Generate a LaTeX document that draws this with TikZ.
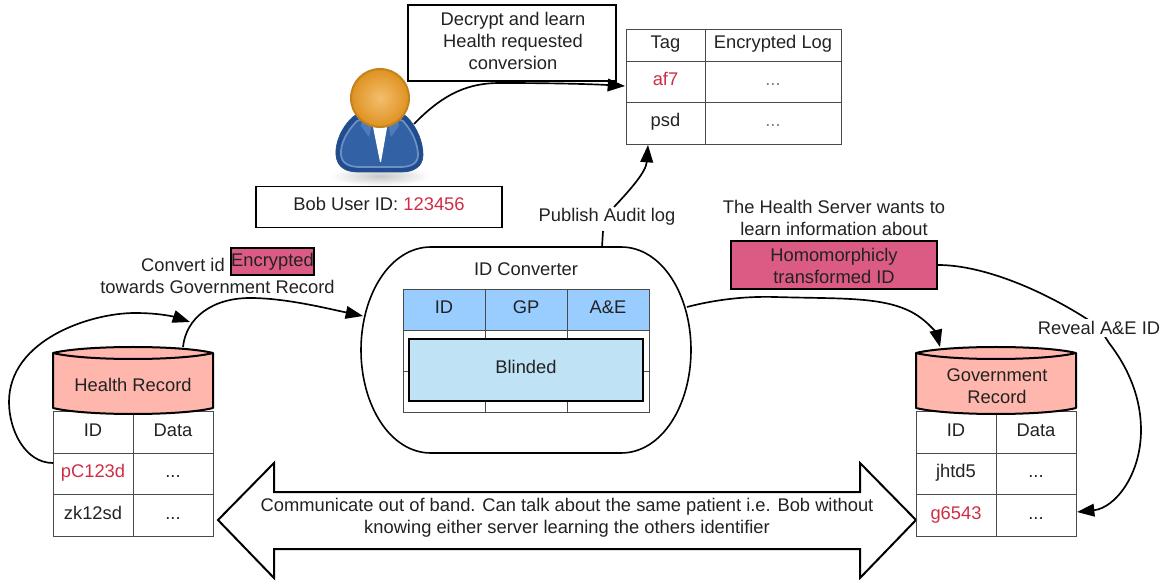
\documentclass[tikz,border=0pt]{standalone}
\usepackage{fontspec}
\setmainfont{Liberation Sans}
\usetikzlibrary{arrows.meta}
\definecolor{ink}{HTML}{222222}
\definecolor{redtxt}{HTML}{CE2E45}
\definecolor{pinkfill}{HTML}{DB5B84}
\definecolor{salmon}{HTML}{FFB6AD}
\definecolor{headblue}{HTML}{99CCFF}
\definecolor{blindblue}{HTML}{BFE3F5}
\definecolor{gridc}{HTML}{4A4A4A}
\definecolor{suitdark}{HTML}{214C8E}
\definecolor{suitmid}{HTML}{3262A5}
\definecolor{suitlight}{HTML}{6E91C4}
\definecolor{suitcollar}{HTML}{4F7CB8}
\definecolor{headin}{HTML}{F4BE6E}
\definecolor{headout}{HTML}{DE9220}
\definecolor{headline}{HTML}{C4821E}
\newcommand\threedots{...}
\tikzset{
  x=0.75pt,y=-0.75pt,
  every node/.style={font=\fontsize{13.75pt}{16.5pt}\selectfont,text=ink,align=center,inner sep=0pt},
  raised/.style={text height=9.8pt,text depth=4pt},
  cell/.style={draw=gridc,line width=0.7pt,raised},
  colA/.style={cell,minimum width=60pt,minimum height=31pt},
  boxed/.style={draw=black,line width=1.4pt,fill=white},
  pink/.style={draw=black,line width=1.4pt,fill=pinkfill},
  conn/.style={draw=black,line width=1.25pt},
  tipped/.style={conn,-{Triangle[length=13pt,width=9.5pt]}},
  cyl/.style={draw=black,line width=1.5pt,fill=salmon,line join=round},
}
\begin{document}
\begin{tikzpicture}
\useasboundingbox (0,0) rectangle (1166,580);

% ---- big double arrow
\draw[draw=black,line width=1.5pt,fill=white,line join=miter]
  (218,520) -- (274,463) -- (274,492) -- (860,492) -- (860,463) -- (916,520)
  -- (860,578) -- (860,549) -- (274,549) -- (274,578) -- cycle;
\node (oob) at (567,518) {Communicate out of band. Can talk about the same patient i.e. Bob without\\knowing either server learning the others identifier};

% ---- ID converter
\draw[draw=black,line width=1.2pt,fill=white]
  (431,247) -- (621,247) .. controls (662,247) and (691,295) .. (691,350)
  .. controls (691,405) and (662,453) .. (621,453) -- (431,453)
  .. controls (390,453) and (361,405) .. (361,350)
  .. controls (361,295) and (390,247) .. (431,247) -- cycle;
\node (convtitle) at (526,269) {ID Converter};
\foreach \n/\cx/\lab in {hid/444/ID,hgp/526/GP,hae/608/A\&E}{
  \node[cell,fill=headblue,minimum width=61.5pt,minimum height=30.75pt] (\n) at (\cx,309.5) {\lab};
}
\foreach \n/\cx in {a/444,b/526,c/608}{
  \node[cell,minimum width=61.5pt,minimum height=30.75pt] (r1\n) at (\cx,350.5) {};
  \node[cell,minimum width=61.5pt,minimum height=30.75pt] (r2\n) at (\cx,391.5) {};
}
\node[raised,draw=black,line width=2pt,fill=blindblue,minimum width=175.5pt,minimum height=46.5pt] (blinded) at (526,370) {Blinded};

% ---- Health record
\foreach \n/\cy/\a/\acol in {hra/432.5/ID/ink,hrb/474/pC123d/redtxt,hrc/515.5/zk12sd/ink}{
  \node[colA,text=\acol] (\n) at (93,\cy) {\a};
}
\foreach \n/\cy/\a in {hrd/432.5/Data,hre/474/\threedots,hrf/515.5/\threedots}{
  \node[colA] (\n) at (173,\cy) {\a};
}
\path[cyl] (53,353) -- (53,408) .. controls (85,416) and (181,416) .. (213,408) -- (213,353)
   .. controls (181,345) and (85,345) .. (53,353) -- cycle;
\draw[draw=black,line width=1.5pt] (53,353) .. controls (85,361) and (181,361) .. (213,353);
\node (hr) at (133,385) {Health Record};

% ---- Government record
\foreach \n/\cy/\a/\acol in {gra/432.5/ID/ink,grb/474/jhtd5/ink,grc/515.5/g6543/redtxt}{
  \node[colA,text=\acol] (\n) at (956,\cy) {\a};
}
\foreach \n/\cy/\a in {grd/432.5/Data,gre/474/\threedots,grf/515.5/\threedots}{
  \node[colA] (\n) at (1036,\cy) {\a};
}
\path[cyl] (916,353) -- (916,408) .. controls (948,416) and (1044,416) .. (1076,408) -- (1076,353)
   .. controls (1044,345) and (948,345) .. (916,353) -- cycle;
\draw[draw=black,line width=1.5pt] (916,353) .. controls (948,361) and (1044,361) .. (1076,353);
\node (gr) at (997,386) {Government\\Record};

% ---- log table
\node[cell,minimum width=59.25pt,minimum height=24pt] (tag) at (665.5,45) {Tag};
\node[cell,minimum width=102pt,minimum height=24pt] (enc) at (773,45) {Encrypted Log};
\node[cell,minimum width=59.25pt,minimum height=30.75pt,text=redtxt] (af) at (665.5,81.5) {af7};
\node[cell,minimum width=102pt,minimum height=30.75pt,text=gray] (l1) at (773,81.5) {\threedots};
\node[cell,minimum width=59.25pt,minimum height=31.5pt] (psd) at (665.5,123) {psd};
\node[cell,minimum width=102pt,minimum height=31.5pt,text=gray] (l2) at (773,123) {\threedots};

% ---- boxes
\node[boxed,minimum width=156pt,minimum height=57pt] (decrypt) at (512,43) {};
\node (decrypttext) at (513,41) {Decrypt and learn\\Health requested\\conversion};
\node[raised,boxed,minimum width=184.5pt,minimum height=30.75pt] (bob) at (379,207) {Bob User ID: \textcolor{redtxt}{123456}};
\node[pink,minimum width=154.5pt,minimum height=36pt] (homo) at (834,265) {};
\node (homotext) at (834,266) {Homomorphicly\\transformed ID};
\node[pink,minimum width=62pt,minimum height=20pt,line width=1.2pt] (encr) at (272.5,261.5) {Encrypted};
\node[anchor=east] (convid) at (225,265) {Convert id};
\node (towards) at (217.5,287) {towards Government Record};
\node (serverwants) at (834,218) {The Health Server wants to\\learn information about};

% ---- person
\shade[inner color=black!22,outer color=white] (380,176) ellipse (50 and 10);
\draw[draw=suitdark,line width=0.5pt,fill=suitdark]
  (354,116) .. controls (340,128) and (335,145) .. (336,155)
  .. controls (337,168) and (347,172) .. (358,172) -- (402,172)
  .. controls (413,172) and (423,167) .. (423,155)
  .. controls (423,143) and (418,128) .. (406,116)
  .. controls (395,110) and (365,110) .. (354,116) -- cycle;
\draw[draw=suitlight,line width=1.3pt,fill=suitmid]
  (357,121) .. controls (346,132) and (340,145) .. (341,155)
  .. controls (342,164) and (350,167) .. (360,167) -- (400,167)
  .. controls (410,167) and (418,164) .. (418,155)
  .. controls (418,145) and (413,132) .. (403,121)
  .. controls (392,116) and (368,116) .. (357,121) -- cycle;
\path[fill=white] (372,122) -- (388,122) -- (381,162) -- (380,162) -- cycle;
\path[fill=suitcollar] (362,119) -- (372,124) -- (369,137) -- (361,126) -- cycle;
\path[fill=suitcollar] (398,119) -- (388,124) -- (391,137) -- (399,126) -- cycle;
\shade[inner color=headin,outer color=headout] (380,98) circle (29);
\draw[draw=headline,line width=1.5pt] (380,98) circle (29);

% ---- connectors
\coordinate (bobstart) at (414,124);
\coordinate (logtip) at (625,86);
\draw[tipped] (bobstart) .. controls (445,92) and (470,83) .. (500,83) .. controls (550,83) and (590,84) .. (logtip);

\coordinate (convtop) at (602,247);
\coordinate (publishtop) at (614,207);
\coordinate (logbot) at (648,145);
\draw[conn] (convtop) -- (603,231);
\draw[tipped] (publishtop) .. controls (630,190) and (646,172) .. (logbot);
\node (publish) at (607,217) {Publish Audit log};

\coordinate (pcleft) at (53,463);
\coordinate (hrtopr) at (183,347);
\coordinate (hrloopend) at (190,322);
\draw[tipped] (pcleft) .. controls (25,463) and (9,430) .. (9,402)
   .. controls (9,340) and (90,313) .. (135,313) .. controls (160,313) and (175,317) .. (hrloopend);
\coordinate (convleft) at (363,316);
\draw[tipped] (hrtopr) .. controls (186,318) and (212,298) .. (250,298)
   .. controls (285,298) and (325,308) .. (convleft);

\coordinate (convright) at (687,307);
\coordinate (grtop) at (940,347);
\draw[tipped] (convright) .. controls (710,301) and (740,296) .. (775,297)
   .. controls (840,299) and (885,296) .. (915,314) .. controls (930,323) and (937,335) .. (grtop);

\coordinate (grrow) at (1077,512);
\draw[tipped] (homo.east) .. controls (985,265) and (1045,292) .. (1087,319)
   .. controls (1100,328) and (1104,335) .. (1109,343)
   .. controls (1130,370) and (1141,400) .. (1141,430)
   .. controls (1141,475) and (1115,508) .. (grrow);
\node[fill=white,inner ysep=2pt] (reveal) at (1099,328) {Reveal A\&E ID};
\end{tikzpicture}
\end{document}
